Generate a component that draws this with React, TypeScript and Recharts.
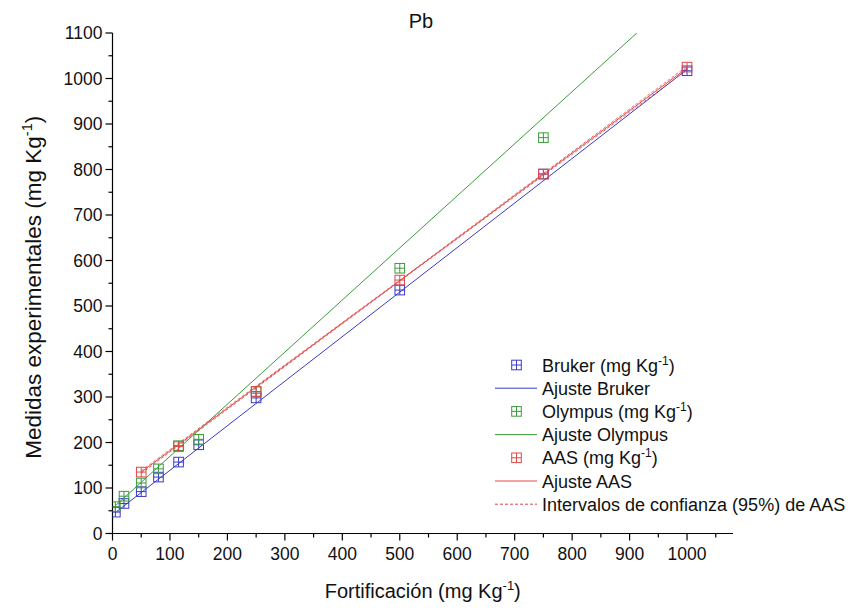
import { ComposedChart, Line, Scatter, XAxis, YAxis, Label } from 'recharts';

// fortification levels (mg/kg) and measured values per instrument
const fortification = [5, 20, 50, 80, 115, 150, 250, 500, 750, 1000];
const brukerValues = [47, 66, 92, 124, 157, 195, 298, 535, 790, 1017];
const olympusLevels = [5, 20, 50, 80, 115, 150, 250, 500, 750];
const olympusValues = [59, 82, 111, 142, 193, 207, 312, 583, 870];
const aasLevels = [50, 115, 250, 500, 750, 1000];
const aasValues = [135, 191, 312, 557, 790, 1025];

// linear fits (start / end of each fitted range)
const brukerFitX = [5, 1000];
const brukerFitY = [46, 1020];
const olympusFitX = [5, 1000];
const olympusFitY = [61, 1200];
const aasFitX = [50, 1000];
const aasFitY = [135, 1023];
// 95% confidence band of the AAS fit
const aasCiX = [50, 525, 1000];
const aasCiLow = [132, 578, 1019];
const aasCiHigh = [138, 580, 1027];

const xTicks = [0, 50, 100, 150, 200, 250, 300, 350, 400, 450, 500, 550, 600, 650, 700, 750, 800, 850, 900, 950, 1000, 1050];
const yTicks = [0, 50, 100, 150, 200, 250, 300, 350, 400, 450, 500, 550, 600, 650, 700, 750, 800, 850, 900, 950, 1000, 1050, 1100];

const BLUE = '#3a3ac8';
const GREEN = '#3c9a3c';
const RED = '#e04848';
const FONT = '"Liberation Sans", Arial, sans-serif';

const pts = (xs: number[], ys: number[]) => xs.map((x, i) => ({ x, y: ys[i] }));

const brukerData = pts(fortification, brukerValues);
const olympusData = pts(olympusLevels, olympusValues);
const aasData = pts(aasLevels, aasValues);

const crossSquare = (color: string) => (props: any) => {
  const { cx, cy } = props;
  const h = 4.8;
  return (
    <g stroke={color} strokeWidth={1} fill="none">
      <rect x={cx - h} y={cy - h} width={2 * h} height={2 * h} />
      <line x1={cx - h} y1={cy} x2={cx + h} y2={cy} />
      <line x1={cx} y1={cy - h} x2={cx} y2={cy + h} />
    </g>
  );
};

const XTick = (props: any) => {
  const { x, y, payload } = props;
  const major = payload.value % 100 === 0;
  return (
    <g>
      <line x1={x} y1={y} x2={x} y2={y + (major ? 7 : 4)} stroke="#000" strokeWidth={1.2} />
      {major && (
        <text x={x} y={y + 26} textAnchor="middle" fontSize={17.5} fill="#111" fontFamily={FONT}>
          {payload.value}
        </text>
      )}
    </g>
  );
};

const YTick = (props: any) => {
  const { x, y, payload } = props;
  const major = payload.value % 100 === 0;
  return (
    <g>
      <line x1={x} y1={y} x2={x - (major ? 7 : 4)} y2={y} stroke="#000" strokeWidth={1.2} />
      {major && (
        <text x={x - 10} y={y + 6} textAnchor="end" fontSize={17.5} fill="#111" fontFamily={FONT}>
          {payload.value}
        </text>
      )}
    </g>
  );
};

const legendRows = [
  { kind: 'marker', color: BLUE, label: 'Bruker (mg Kg', sup: true },
  { kind: 'line', color: BLUE, label: 'Ajuste Bruker', sup: false },
  { kind: 'marker', color: GREEN, label: 'Olympus (mg Kg', sup: true },
  { kind: 'line', color: GREEN, label: 'Ajuste Olympus', sup: false },
  { kind: 'marker', color: RED, label: 'AAS (mg Kg', sup: true },
  { kind: 'line', color: RED, label: 'Ajuste AAS', sup: false },
  { kind: 'dash', color: RED, label: 'Intervalos de confianza (95%) de AAS', sup: false },
];

const ChartLegend = () => (
  <svg width={364} height={175} style={{ position: 'absolute', left: 490, top: 350 }}>
    {legendRows.map((r, i) => {
      const cy = 15 + i * 23.2;
      return (
        <g key={r.label}>
          {r.kind === 'marker' ? (
            crossSquare(r.color)({ cx: 26.5, cy })
          ) : (
            <line x1={5} y1={cy} x2={47} y2={cy} stroke={r.color} strokeWidth={1}
              strokeDasharray={r.kind === 'dash' ? '3 2' : undefined} />
          )}
          <text x={52} y={cy + 6.5} fontSize={18} fill="#111" fontFamily={FONT}>
            {r.label}
            {r.sup && (
              <>
                <tspan dy={-7} fontSize={12}>-1</tspan>
                <tspan dy={7}>)</tspan>
              </>
            )}
          </text>
        </g>
      );
    })}
  </svg>
);

const XTitle = (props: any) => {
  const { viewBox } = props;
  const cx = viewBox.x + viewBox.width / 2;
  return (
    <text x={cx} y={viewBox.y + 64} textAnchor="middle" fontSize={20} fill="#111" fontFamily={FONT}>
      Fortificación (mg Kg<tspan dy={-8} fontSize={13}>-1</tspan><tspan dy={8}>)</tspan>
    </text>
  );
};

const YTitle = (props: any) => {
  const { viewBox } = props;
  const cy = viewBox.y + viewBox.height / 2 + 4;
  const x = 41;
  return (
    <text x={x} y={cy} textAnchor="middle" fontSize={22.5} fill="#111" fontFamily={FONT}
      transform={`rotate(-90, ${x}, ${cy})`}>
      Medidas experimentales (mg Kg<tspan dy={-9} fontSize={14.5}>-1</tspan><tspan dy={9}>)</tspan>
    </text>
  );
};

export default function App() {
  return (
    <div style={{ position: 'absolute', left: 0, top: 0, width: 854, height: 613, background: '#fff', fontFamily: FONT }}>
      <ComposedChart width={854} height={613} margin={{ top: 33, right: 121, bottom: 0, left: 0 }}>
        <XAxis
          type="number"
          dataKey="x"
          domain={[0, 1080]}
          ticks={xTicks}
          interval={0}
          tick={<XTick />}
          tickLine={false}
          tickSize={0}
          tickMargin={0}
          height={79.5}
          axisLine={{ stroke: '#000', strokeWidth: 1.2 }}
          allowDataOverflow
        >
          <Label content={<XTitle />} />
        </XAxis>
        <YAxis
          type="number"
          dataKey="y"
          domain={[0, 1100]}
          ticks={yTicks}
          interval={0}
          tick={<YTick />}
          tickLine={false}
          tickSize={0}
          tickMargin={0}
          width={112.5}
          axisLine={{ stroke: '#000', strokeWidth: 1.2 }}
          allowDataOverflow
        >
          <Label content={<YTitle />} />
        </YAxis>
        <Line data={pts(brukerFitX, brukerFitY)} dataKey="y" stroke={BLUE} strokeWidth={1} dot={false} isAnimationActive={false} legendType="none" />
        <Line data={pts(olympusFitX, olympusFitY)} dataKey="y" stroke={GREEN} strokeWidth={1} dot={false} isAnimationActive={false} legendType="none" />
        <Line data={pts(aasCiX, aasCiLow)} dataKey="y" stroke={RED} strokeWidth={0.8} strokeDasharray="3 2" dot={false} isAnimationActive={false} legendType="none" />
        <Line data={pts(aasCiX, aasCiHigh)} dataKey="y" stroke={RED} strokeWidth={0.8} strokeDasharray="3 2" dot={false} isAnimationActive={false} legendType="none" />
        <Line data={pts(aasFitX, aasFitY)} dataKey="y" stroke={RED} strokeWidth={1} dot={false} isAnimationActive={false} legendType="none" />
        <Scatter data={brukerData} dataKey="y" shape={crossSquare(BLUE)} isAnimationActive={false} legendType="none" />
        <Scatter data={olympusData} dataKey="y" shape={crossSquare(GREEN)} isAnimationActive={false} legendType="none" />
        <Scatter data={aasData} dataKey="y" shape={crossSquare(RED)} isAnimationActive={false} legendType="none" />
      </ComposedChart>
      <div style={{ position: 'absolute', left: 421, top: 10, transform: 'translateX(-50%)', fontSize: 20, color: '#111', pointerEvents: 'none' }}>Pb</div>
      <ChartLegend />
    </div>
  );
}
